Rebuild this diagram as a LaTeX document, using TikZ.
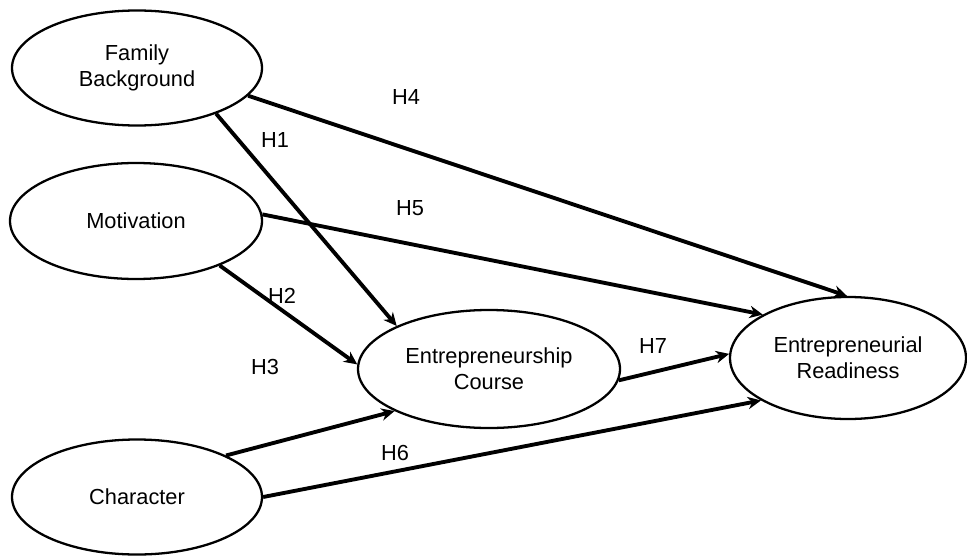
\documentclass[tikz,border=0pt]{standalone}
\usepackage{fontspec}
\setmainfont{Liberation Sans}
\usepackage{tikz}
\usetikzlibrary{arrows.meta, shapes.geometric, positioning}
\tikzset{>={Stealth[length=7.5pt,width=7pt]}}
\tikzset{
  construct/.style={ellipse, draw, line width=1.3pt, align=center, inner sep=0pt},
  hyp/.style={line width=2.2pt}
}

\begin{document}
\begin{tikzpicture}[font=\fontsize{12.4}{15}\selectfont]
    \useasboundingbox (0,0) rectangle (19.34,-11.2);
    \node[construct, minimum width=5.0cm, minimum height=2.3cm]	(FB)	at	(2.74,-1.36)	{Family\\Background};
    \node[construct, minimum width=5.04cm, minimum height=2.32cm]	(MO)	at	(2.72,-4.42)	{Motivation};
    \node[construct, minimum width=5.0cm, minimum height=2.3cm]	(CH)	at	(2.74,-9.94)	{Character};
    \node[construct, minimum width=5.24cm, minimum height=2.36cm]	(EC)	at	(9.78,-7.38)	{Entrepreneurship\\Course};
    \node[construct, minimum width=4.72cm, minimum height=2.44cm]	(ER)	at	(16.96,-7.16)	{Entrepreneurial\\Readiness};

    \node	(H1)	at	(5.5,-2.8)	{H1};
    \node	(H2)	at	(5.64,-5.92)	{H2};
    \node	(H3)	at	(5.3,-7.34)	{H3};
    \node	(H4)	at	(8.12,-1.94)	{H4};
    \node	(H5)	at	(8.2,-4.16)	{H5};
    \node	(H6)	at	(7.9,-9.06)	{H6};
    \node	(H7)	at	(13.06,-6.92)	{H7};

    \draw[->, hyp](FB.-14) -- (ER.91);
    \draw[->, hyp](FB.-30) -- (EC.155);

    \draw[->, hyp](MO.3) -- (ER.153);
    \draw[->, hyp](MO.-28) -- (EC.178);

    \draw[->, hyp](CH.25) -- (EC.204);
    \draw[->, hyp](CH.0) -- (ER.206);

    \draw[->, hyp](EC.-5) -- (ER.178);
\end{tikzpicture}
\end{document}
